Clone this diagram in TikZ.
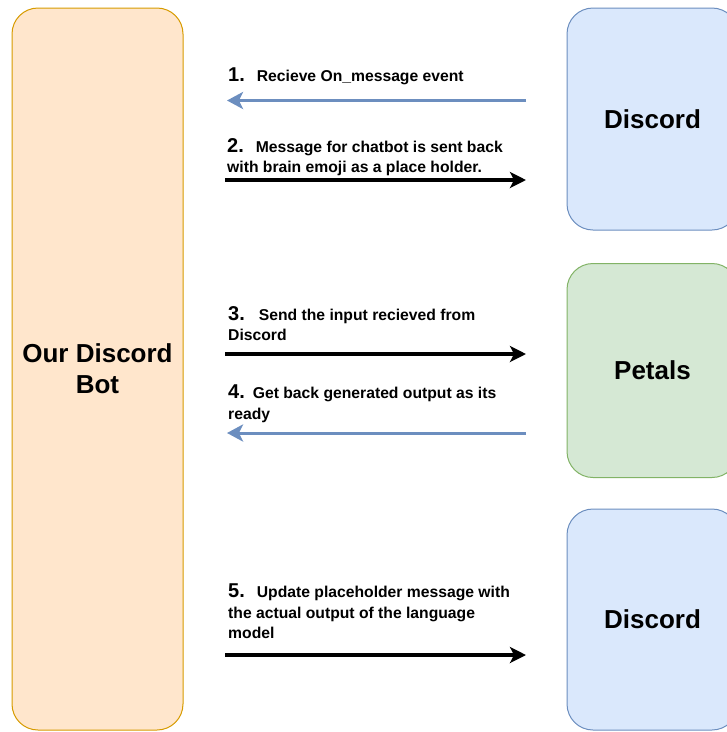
\documentclass[tikz,border=0pt]{standalone}
\usepackage{fontspec}
\setmainfont{Liberation Sans}
\usetikzlibrary{arrows.meta}

\definecolor{botfill}{HTML}{FFE6CC}
\definecolor{botline}{HTML}{D79B00}
\definecolor{dcfill}{HTML}{DAE8FC}
\definecolor{dcline}{HTML}{6C8EBF}
\definecolor{ptfill}{HTML}{D5E8D4}
\definecolor{ptline}{HTML}{82B366}

\def\numfont{\fontsize{20}{20}\selectfont\bfseries}
\def\msgfont{\fontsize{15.7}{20.5}\selectfont\bfseries}

\tikzset{
  box/.style={draw, line width=1pt, rounded corners=26pt, minimum width=171pt,
    align=center, font=\fontsize{26}{31}\selectfont\bfseries},
  msg/.style={anchor=north west, inner sep=0pt, align=left, font=\msgfont},
  sendarrow/.style={line width=3.2pt, -{Stealth[length=16pt,width=16pt,inset=4pt]}},
  backarrow/.style={line width=3pt, dcline, -{Stealth[length=16pt,width=17pt,inset=4pt]}}
}

\begin{document}
\begin{tikzpicture}[x=1pt, y=-1pt]
	
	\clip (0,0) rectangle (727,732);
	\node[box, fill=botfill, draw=botline, minimum height=722pt] (bot) at (97.5,369) {Our Discord\\Bot};
	\node[box, fill=dcfill, draw=dcline, minimum height=222pt] (discordA) at (652.5,119) {Discord};
	\node[box, fill=ptfill, draw=ptline, minimum height=214pt] (petals) at (652.5,370.5) {Petals};
	\node[box, fill=dcfill, draw=dcline, minimum height=221pt] (discordB) at (652.5,619.5) {Discord};
	
	\coordinate (l1) at (227,100.5);  \coordinate (r1) at (526,100.5);
	\coordinate (l2) at (225,180);    \coordinate (r2) at (526,180);
	\coordinate (l3) at (225,354);    \coordinate (r3) at (526,354);
	\coordinate (l4) at (227,433);    \coordinate (r4) at (526,433);
	\coordinate (l5) at (225,655);    \coordinate (r5) at (526,655);
	
	\node[msg] (m1) at (228,68) {{\numfont 1.}\hspace{12pt}Recieve On\_message event};
	\node[msg] (m2) at (227,138) {{\numfont 2.}\hspace{12pt}Message for chatbot is sent back\\with brain emoji as a place holder.};
	\node[msg] (m3) at (228,306) {{\numfont 3.}\hspace{14pt}Send the input recieved from\\Discord};
	\node[msg] (m4) at (228,385) {{\numfont 4.}\hspace{8pt}Get back generated output as its\\ready};
	\node[msg] (m5) at (228,584) {{\numfont 5.}\hspace{12pt}Update placeholder message with\\the actual output of the language\\model};
	
	\draw[backarrow] (r1) -- (l1);
	\draw[sendarrow] (l2) -- (r2);
	\draw[sendarrow] (l3) -- (r3);
	\draw[backarrow] (r4) -- (l4);
	\draw[sendarrow] (l5) -- (r5);
	
\end{tikzpicture}
\end{document}
